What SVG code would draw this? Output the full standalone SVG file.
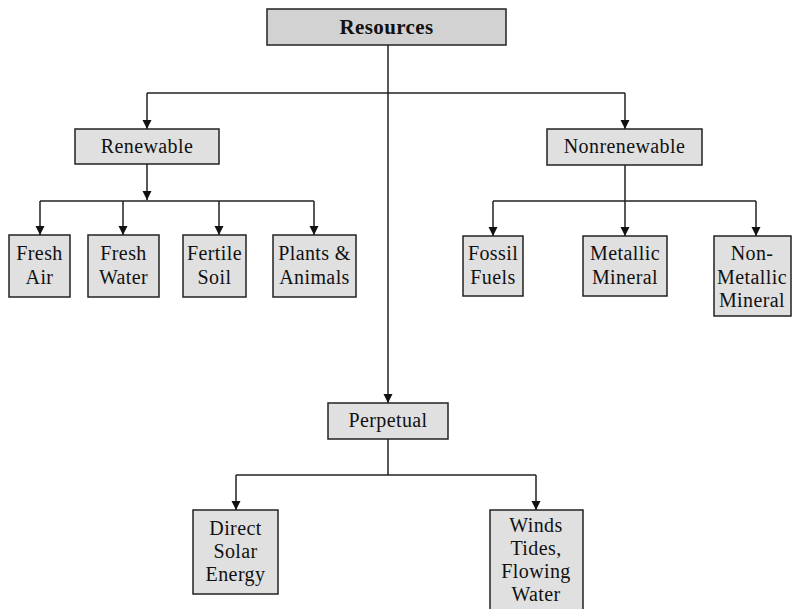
<svg xmlns="http://www.w3.org/2000/svg" width="792" height="609" viewBox="0 0 792 609">
<style>
.box{fill:#e0e0e0;stroke:#222;stroke-width:1.5}
.top{fill:#d2d2d2;stroke:#222;stroke-width:1.5}
text{font-family:"Liberation Serif","Times New Roman",serif;font-size:20px;letter-spacing:0.4px;fill:#111;text-anchor:middle}
.b{font-weight:bold;font-size:21px}
.c{fill:none;stroke:#222;stroke-width:1.5}
</style>
<defs>
<marker id="ah" markerWidth="9" markerHeight="10" refX="9" refY="5" orient="auto" markerUnits="userSpaceOnUse">
<path d="M0,0.5 L9,5 L0,9.5 Z" fill="#111"/>
</marker>
</defs>
<rect width="792" height="609" fill="#fff"/>
<g id="connectors">
<path class="c" d="M388,45 V403" marker-end="url(#ah)"/>
<path class="c" d="M147,93 H625"/>
<path class="c" d="M147,93 V129" marker-end="url(#ah)"/>
<path class="c" d="M625,93 V129" marker-end="url(#ah)"/>
<path class="c" d="M147,164 V200" marker-end="url(#ah)"/>
<path class="c" d="M40,201 H314"/>
<path class="c" d="M40,201 V235" marker-end="url(#ah)"/>
<path class="c" d="M123,201 V235" marker-end="url(#ah)"/>
<path class="c" d="M219,201 V235" marker-end="url(#ah)"/>
<path class="c" d="M314,201 V235" marker-end="url(#ah)"/>
<path class="c" d="M625,165 V236" marker-end="url(#ah)"/>
<path class="c" d="M493,201 H756"/>
<path class="c" d="M493,201 V236" marker-end="url(#ah)"/>
<path class="c" d="M756,201 V236" marker-end="url(#ah)"/>
<path class="c" d="M388,439 V475"/>
<path class="c" d="M236,475 H536"/>
<path class="c" d="M236,475 V510" marker-end="url(#ah)"/>
<path class="c" d="M536,475 V510" marker-end="url(#ah)"/>
</g>
<g id="resources"><rect class="top" x="267" y="9" width="239" height="36"/><text class="b" x="386.5" y="34">Resources</text></g>
<g id="renewable"><rect class="box" x="75" y="129" width="144" height="35"/><text x="147" y="153">Renewable</text></g>
<g id="nonrenewable"><rect class="box" x="547" y="129" width="155" height="36"/><text x="624.5" y="153">Nonrenewable</text></g>
<g id="fresh-air"><rect class="box" x="9" y="235" width="61" height="62"/><text x="39.5" y="260">Fresh</text><text x="39.5" y="284">Air</text></g>
<g id="fresh-water"><rect class="box" x="88" y="235" width="71" height="62"/><text x="123.5" y="260">Fresh</text><text x="123.5" y="284">Water</text></g>
<g id="fertile-soil"><rect class="box" x="183" y="235" width="63" height="62"/><text x="214.5" y="260">Fertile</text><text x="214.5" y="284">Soil</text></g>
<g id="plants-animals"><rect class="box" x="273" y="235" width="83" height="62"/><text x="314.5" y="260">Plants &amp;</text><text x="314.5" y="284">Animals</text></g>
<g id="fossil-fuels"><rect class="box" x="463" y="236" width="60" height="60"/><text x="493" y="260">Fossil</text><text x="493" y="284">Fuels</text></g>
<g id="metallic-mineral"><rect class="box" x="583" y="236" width="84" height="60"/><text x="625" y="260">Metallic</text><text x="625" y="284">Mineral</text></g>
<g id="non-metallic-mineral"><rect class="box" x="714" y="236" width="77" height="80"/><text x="752" y="260">Non-</text><text x="752" y="284">Metallic</text><text x="752" y="307">Mineral</text></g>
<g id="perpetual"><rect class="box" x="328" y="403" width="120" height="36"/><text x="388" y="427">Perpetual</text></g>
<g id="direct-solar"><rect class="box" x="193" y="510" width="85" height="84"/><text x="235.5" y="535">Direct</text><text x="235.5" y="558">Solar</text><text x="235.5" y="581">Energy</text></g>
<g id="winds-tides"><rect class="box" x="490" y="510" width="93" height="104"/><text x="536" y="532">Winds</text><text x="536" y="555">Tides,</text><text x="536" y="578">Flowing</text><text x="536" y="601">Water</text></g>
</svg>
